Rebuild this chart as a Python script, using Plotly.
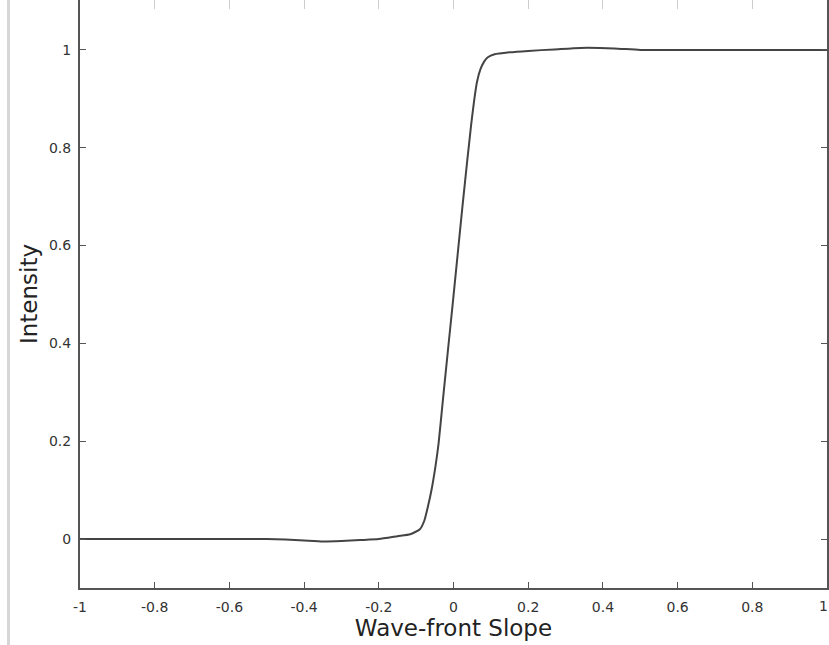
import plotly.graph_objects as go

# Measured response: intensity vs. wave-front slope
slope = [-1.0, -0.8, -0.6, -0.5, -0.45, -0.4, -0.35, -0.3, -0.25, -0.2, -0.15,
         -0.116, -0.09, -0.078, -0.068, -0.058, -0.049, -0.040, -0.028, -0.015, -0.002,
         0.011, 0.024, 0.037, 0.047, 0.055, 0.063, 0.072, 0.082, 0.092, 0.11, 0.15, 0.2,
         0.27, 0.34, 0.43, 0.5, 0.7, 1.0]
intensity = [0.0, 0.0, 0.0, 0.0, -0.001, -0.003, -0.005, -0.004, -0.002, 0.0, 0.006,
             0.010, 0.020, 0.038, 0.068, 0.104, 0.145, 0.195, 0.287, 0.385, 0.482,
             0.581, 0.680, 0.775, 0.845, 0.895, 0.935, 0.960, 0.976, 0.985, 0.991, 0.995, 0.998,
             1.001, 1.004, 1.003, 1.000, 1.000, 1.000]

x_ticks = [-1, -0.8, -0.6, -0.4, -0.2, 0, 0.2, 0.4, 0.6, 0.8, 1]
x_labels = ["-1", "-0.8", "-0.6", "-0.4", "-0.2", "0", "0.2", "0.4", "0.6", "0.8", "1"]
y_ticks = [0, 0.2, 0.4, 0.6, 0.8, 1]
y_labels = ["0", "0.2", "0.4", "0.6", "0.8", "1"]

FONT = "DejaVu Sans"
AXIS = "#555555"
TICK_FONT = dict(size=14, family=FONT, color="#333333")

fig = go.Figure()
fig.add_trace(go.Scatter(
    x=slope, y=intensity, mode="lines",
    line=dict(color="#444444", width=2, shape="spline", smoothing=0.5),
    hoverinfo="skip", showlegend=False,
))
# invisible trace on the top axis so its tick marks are drawn
fig.add_trace(go.Scatter(x=[-1, 1], y=[0, 0], xaxis="x2", mode="lines",
                         line=dict(width=0), hoverinfo="skip", showlegend=False))

fig.update_layout(
    width=829, height=645,
    margin=dict(l=80, r=2, t=0, b=57),
    paper_bgcolor="white", plot_bgcolor="white",
    font=dict(family=FONT, color="#333333"),
    xaxis=dict(
        range=[-1, 1], tickvals=x_ticks, ticktext=x_labels,
        showgrid=False, zeroline=False,
        showline=True, linecolor=AXIS, linewidth=2, mirror=False,
        ticks="inside", ticklen=6, tickwidth=1, tickcolor=AXIS,
        tickfont=TICK_FONT,
        ticklabelstandoff=5,
        title=dict(text="Wave-front Slope", standoff=1,
                   font=dict(size=23, family=FONT, color="#222222")),
    ),
    xaxis2=dict(
        range=[-1, 1], tickvals=x_ticks, overlaying="x", side="top",
        showgrid=False, zeroline=False, showline=False, showticklabels=False,
        ticks="inside", ticklen=9, tickwidth=1, tickcolor="#cccccc",
    ),
    yaxis=dict(
        range=[-0.1, 1.102], tickvals=y_ticks, ticktext=y_labels,
        showgrid=False, zeroline=False,
        showline=True, linecolor=AXIS, linewidth=2, mirror="ticks",
        ticks="inside", ticklen=6, tickwidth=1, tickcolor=AXIS,
        tickfont=TICK_FONT,
        ticklabelstandoff=4,
        title=dict(text="Intensity", standoff=5,
                   font=dict(size=23, family=FONT, color="#222222")),
    ),
    shapes=[dict(type="line", xref="paper", yref="paper",
                 x0=-0.0957, x1=-0.0957, y0=-0.1, y1=1,
                 line=dict(color="#d6d6d6", width=3))],
    # last x tick label sits against the page edge, where the axis would drop it
    annotations=[dict(x=x_ticks[-1], y=0, xref="x", yref="paper",
                      text=x_labels[-1], showarrow=False,
                      xanchor="right", yanchor="top", xshift=2, yshift=-9,
                      borderpad=0, font=TICK_FONT)],
)

fig.write_html("out.html")
